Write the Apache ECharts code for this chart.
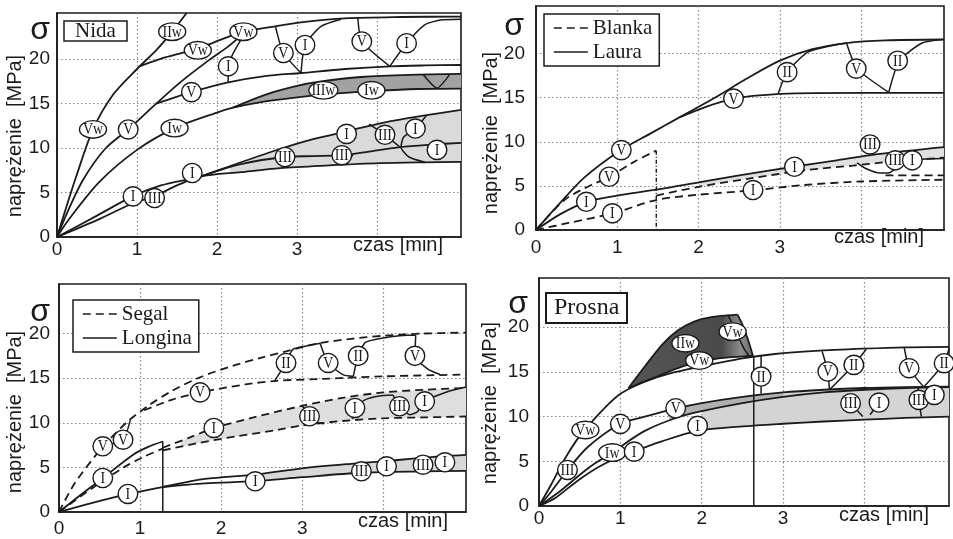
<!DOCTYPE html>
<html><head><meta charset="utf-8">
<script src="https://cdn.jsdelivr.net/npm/echarts@6/dist/echarts.min.js"></script>
<style>html,body{margin:0;padding:0;background:#fff}#c{width:953px;height:539px}</style>
</head><body><div id="c"></div>
<script>
// ---------- tick labels / titles ----------
const xTickLabels = ['0', '1', '2', '3'];
const yTickLabels = ['0', '5', '10', '15', '20'];
const yTitle = 'naprężenie  [MPa]';
const xTitle = 'czas [min]';
const sigma = 'σ';

// ---------- Panel 1: Nida ----------
const nidaA = [[0,0],[0.1,2.9],[0.24,6.8],[0.45,12.1],[0.7,16.0],[1.0,18.9],[1.25,21.1],[1.44,23.1],[1.62,25.2]];
const nidaB = [[0,0],[0.15,3.2],[0.33,6.5],[0.6,9.9],[0.89,12.1],[1.24,15.0],[1.54,17.4],[1.9,19.9],[2.15,21.5],[2.33,22.9]];
const nidaC = [[1.03,19.2],[1.35,20.2],[1.76,21.2],[2.05,22.2],[2.33,23.1],[2.73,23.7],[3.1,24.2],[3.6,24.6],[4.3,24.75],[5.05,24.8]];
const nidaD = [[1.24,15.0],[1.68,16.3],[2.14,17.4],[2.6,18.1],[3.05,18.45],[3.6,18.9],[4.16,19.2],[4.6,19.3],[5.05,19.35]];
const nidaIw = [[0,0],[0.15,2.0],[0.53,6.2],[1.0,9.8],[1.47,12.25],[2.0,14.0],[2.2,14.55],[2.5,15.1],[3.0,15.7],[3.5,16.15],[4.0,16.45],[4.5,16.65],[5.05,16.7]];
const nidaBandTop = [[2.2,14.55],[2.6,16.0],[3.0,17.0],[3.3,17.5],[3.8,18.0],[4.4,18.25],[5.05,18.35]];
const nidaL1 = [[0,0],[0.5,2.4],[0.95,4.6],[1.3,5.8],[1.79,6.8],[2.2,8.1],[2.79,9.9],[3.2,11.0],[3.62,11.9],[4.1,12.9],[4.62,13.7],[5.05,14.3]];
const nidaL2 = [[1.79,6.8],[2.3,8.2],[2.85,9.0],[3.2,9.1],[3.56,9.2],[3.9,9.6],[4.29,10.1],[4.7,10.4],[5.05,10.6]];
const nidaL3 = [[0,0],[0.5,1.9],[0.95,3.8],[1.22,4.6],[1.5,5.8],[1.79,6.8],[2.3,7.3],[2.79,7.75],[3.4,8.05],[4.04,8.3],[4.6,8.4],[5.05,8.45]];
const nidaDrops = [
  [[2.14,17.4],[2.14,19.2],[2.3,22.2]],
  [[2.73,23.7],[2.83,20.7],[3.05,18.45]],
  [[3.05,18.45],[3.1,21.6],[3.3,23.7],[3.55,24.5]],
  [[3.76,24.7],[3.81,22.0],[4.16,19.2]],
  [[4.16,19.2],[4.37,21.8],[4.6,23.9],[4.79,24.4],[5.05,24.5]],
  [[4.58,18.25],[4.75,16.75],[4.91,18.3]],
  [[3.9,12.7],[4.1,11.5],[4.29,10.1]],
  [[4.62,13.7],[4.48,12.2],[4.33,11.2],[4.3,10.1],[4.4,9.0],[4.6,8.4]],
  [[3.62,8.15],[3.7,9.3]]
];
const nidaLabels = [['IIw',1.44,23.1],['Vw',1.76,21.0],['Vw',2.33,23.1],['V',2.83,20.7],['I',3.1,21.6],['V',3.81,22.0],['I',4.37,21.8],['I',2.14,19.2],['V',1.68,16.3],['Vw',0.45,12.1],['V',0.89,12.1],['Iw',1.47,12.25],['IIIw',3.33,16.5],['Iw',3.93,16.5],['I',3.62,11.6],['III',4.1,11.5],['I',4.48,12.2],['I',4.75,9.8],['III',2.85,9.0],['III',3.56,9.2],['I',1.69,7.2],['I',0.95,4.57],['III',1.22,4.38]];

// ---------- Panel 2: Blanka / Laura ----------
const laurU1 = [[0,0],[0.3,3.1],[0.6,6.0],[1.05,9.1],[1.4,10.9],[1.77,12.8],[2.2,15.0],[2.6,17.2],[3.0,19.2],[3.4,20.5],[3.82,21.2],[4.3,21.5],[5.02,21.6]];
const laurU2 = [[1.77,12.8],[2.1,14.0],[2.43,14.9],[2.8,15.3],[3.2,15.5],[4.0,15.55],[5.02,15.55]];
const laurL = [[0,0],[0.3,1.8],[0.62,3.2],[1.0,3.9],[1.5,4.6],[2.0,5.4],[2.5,6.2],[3.19,7.2],[3.7,7.9],[4.2,8.6],[5.02,9.4]];
const laurDrops = [
  [[2.98,15.5],[3.09,17.9],[3.35,20.2],[3.82,21.2]],
  [[3.82,21.2],[3.95,18.3],[4.34,15.6]],
  [[4.34,15.6],[4.47,19.2],[4.75,21.2],[5.0,21.6]],
  [[3.95,7.6],[4.05,7.0],[4.23,6.45],[4.35,6.5],[4.44,7.1]],
  [[4.6,8.0],[5.02,8.1]]
];
const blankaU = [[0,0],[0.35,3.4],[0.68,5.1],[0.9,6.0],[1.2,7.7],[1.48,9.0]];
const blankaV = [[1.48,9.0],[1.48,0]];
const blankaL = [[0,0],[0.4,0.8],[0.95,1.9],[1.48,3.4],[2.0,4.0],[2.67,4.5],[3.3,5.1],[4.0,5.5],[5.02,5.7]];
const blankaM = [[1.48,3.9],[2.0,4.9],[2.6,5.8],[3.33,6.8],[3.9,7.3],[4.42,7.8],[5.02,8.2]];
const blankaR = [[4.3,6.2],[5.02,6.2]];
const laurLabels = [['V',1.05,9.06],['V',0.9,6.04],['I',0.62,3.2],['I',0.94,1.89],['V',2.43,14.9],['II',3.09,17.9],['V',3.94,18.3],['II',4.45,19.2],['I',3.18,7.17],['I',2.67,4.53],['III',4.11,9.7],['III',4.42,7.9],['I',4.63,7.9]];

// ---------- Panel 3: Segal / Longina ----------
const segalS1 = [[0,0],[0.2,3.3],[0.54,7.3],[0.83,10.0],[1.1,11.9],[1.4,13.6],[1.74,15.1],[2.15,16.4],[2.5,17.3],[2.8,18.0],[3.2,18.9],[3.6,19.4],[4.0,19.75],[4.5,20.0],[5.02,20.1]];
const segalS2 = [[1.05,11.4],[1.4,12.6],[1.74,13.4],[2.3,14.3],[2.68,14.7],[3.2,14.9],[4.0,15.2],[5.02,15.4]];
const segalS3 = [[1.28,7.2],[1.6,8.3],[1.91,9.4],[2.4,10.6],[3.0,11.9],[3.5,12.8],[4.0,13.4],[4.5,13.7],[5.02,13.9]];
const segalS4 = [[1.28,6.9],[1.7,7.7],[2.2,8.5],[2.7,9.2],[3.0,9.7],[3.5,10.2],[4.0,10.5],[4.5,10.6],[5.02,10.7]];
const segalS5 = [[0,0],[0.4,2.6],[0.8,5.0],[1.05,6.2],[1.28,7.1]];
const longinaLL = [[0,0],[0.25,1.8],[0.54,3.8],[0.91,6.4],[1.1,7.3],[1.28,7.9]];
const longinaV = [[1.28,7.9],[1.28,0]];
const longinaLowTop = [[0,0],[0.4,1.0],[0.85,2.0],[1.28,2.8],[1.8,3.7],[2.42,4.2],[3.0,4.9],[3.6,5.4],[4.04,5.7],[4.5,6.1],[5.02,6.4]];
const longinaLowBot = [[1.28,2.8],[1.8,3.2],[2.42,3.45],[3.0,3.9],[3.73,4.4],[4.5,4.55],[5.02,4.6]];
const longinaPieces = [
  [[2.66,14.7],[2.8,16.7],[2.88,18.2],[3.05,18.6],[3.22,18.9]],
  [[3.22,18.9],[3.32,16.7],[3.5,15.4],[3.63,15.2]],
  [[3.63,15.2],[3.69,17.5],[3.78,19.0],[4.0,19.5],[4.3,19.8],[4.4,19.8]],
  [[4.4,19.8],[4.39,17.5],[4.55,16.0],[4.7,15.4]],
  [[2.99,12.0],[3.05,11.3],[3.09,10.7],[3.2,10.0],[3.27,9.9]],
  [[3.62,10.4],[3.65,11.7],[3.78,12.6],[3.95,13.0],[4.12,13.1]],
  [[4.12,13.1],[4.2,11.85],[4.33,10.9],[4.42,11.2]],
  [[4.42,11.2],[4.51,12.4],[4.8,13.5],[5.02,14.0]],
  [[0.54,7.36],[0.79,8.1],[0.88,10.3]]
];
const segLabels = [['V',0.54,7.36],['V',0.79,8.1],['I',0.54,3.81],['I',0.85,2.02],['V',1.74,13.4],['I',1.91,9.42],['II',2.8,16.7],['V',3.32,16.7],['II',3.69,17.5],['V',4.39,17.5],['III',3.09,10.73],['I',3.65,11.66],['III',4.2,11.85],['I',4.51,12.4],['I',2.42,3.44],['III',3.73,4.56],['I',4.04,5.12],['III',4.49,5.3],['I',4.76,5.57]];

// ---------- Panel 4: Prosna ----------
const prosnaP2 = [[0,0],[0.15,2.4],[0.3,5.0],[0.45,7.2],[0.57,8.6],[0.8,10.9],[1.01,12.6],[1.3,13.9],[1.6,14.8],[2.0,15.6],[2.5,16.5],[2.9,17.0],[3.4,17.35],[4.0,17.6],[4.5,17.75],[5.04,17.8]];
const prosnaP3 = [[0,0],[0.15,1.6],[0.35,4.0],[0.6,6.6],[1.0,9.2],[1.3,10.0],[1.68,10.9],[2.0,11.5],[2.5,12.2],[3.0,12.7],[3.5,13.0],[4.0,13.2],[4.5,13.3],[5.04,13.35]];
const prosnaP4 = [[0,0],[0.25,1.6],[0.6,4.2],[0.9,6.0],[1.3,8.4],[1.7,9.9],[2.0,10.6],[2.5,11.5],[3.0,12.2],[3.5,12.7],[4.0,13.0],[4.5,13.2],[5.04,13.3]];
const prosnaP5 = [[0,0],[0.2,0.9],[0.5,3.0],[0.8,4.7],[1.17,6.1],[1.5,7.2],[1.95,8.4],[2.5,8.9],[3.0,9.2],[3.5,9.45],[4.0,9.65],[4.5,9.85],[5.04,10.0]];
const prosnaDarkTop = [[1.1,13.2],[1.3,15.6],[1.52,18.1],[1.7,19.6],[1.9,20.6],[2.1,21.1],[2.44,21.4]];
const prosnaDarkRight = [[2.44,21.4],[2.5,20.3],[2.57,18.6],[2.63,16.8]];
const prosnaDarkBottom = [[1.1,13.2],[1.4,14.3],[1.7,15.4],[2.0,16.2],[2.3,16.6],[2.63,16.8]];
const prosnaVert = [[2.64,16.8],[2.64,0]];
const prosnaPieces = [
  [[2.73,16.85],[2.73,14.48],[2.73,12.55]],
  [[3.48,17.3],[3.55,15.04],[3.57,13.0]],
  [[3.57,13.0],[3.87,15.78],[4.02,17.5]],
  [[4.49,17.7],[4.55,15.41],[4.73,13.3]],
  [[4.73,13.3],[4.98,15.97],[5.04,17.6]],
  [[3.83,11.49],[3.98,10.0]],
  [[4.07,10.2],[4.18,11.57]],
  [[4.66,13.3],[4.67,11.87],[4.7,10.0]],
  [[2.32,21.4],[2.42,19.5],[2.52,17.6],[2.58,16.8]]
];
const prosnaLabels = [['III',0.35,4.03],['Vw',0.57,8.5],['V',1.0,9.18],['Iw',0.9,5.97],['I',1.17,6.08],['V',1.68,10.93],['I',1.95,8.96],['II',2.73,14.48],['IIw',1.8,18.2],['Vw',1.97,16.27],['Vw',2.38,19.5],['V',3.55,15.04],['II',3.87,15.78],['V',4.55,15.41],['II',4.98,15.97],['III',3.83,11.49],['I',4.18,11.57],['III',4.67,11.87],['I',4.86,12.43]];

// ---------- layout (pixels) ----------
const panels = [
  {left:57, top:13, width:404, height:224, xmax:5.05, ymax:25.2, xm:3, ym:7, sx:40, sy:30, tx:15, ty:136, cx:353, cy:245},
  {left:536, top:6, width:408, height:224, xmax:5.02, ymax:25.4, xm:8, ym:11, sx:514, sy:26, tx:491, ty:133, cx:834, cy:237},
  {left:59, top:284, width:407, height:228, xmax:5.02, ymax:25.55, xm:7, ym:9, sx:40, sy:312, tx:15, ty:412, cx:358, cy:521},
  {left:539, top:278, width:410, height:228, xmax:5.04, ymax:25.5, xm:3, ym:10, sx:518, sy:304, tx:490, ty:403, cx:839, cy:515}
];

const INK = '#1b1b1b';
const GRIDC = '#8a8a8a';
const T = 'rgba(0,0,0,0)';
const series = [];

function clip(arr, a, b) {
  const at = function (x) {
    for (let i = 0; i < arr.length - 1; i++) {
      const p = arr[i], q = arr[i + 1];
      if (x >= p[0] && x <= q[0]) {
        const t = (q[0] - p[0]) ? (x - p[0]) / (q[0] - p[0]) : 0;
        return [x, p[1] + t * (q[1] - p[1])];
      }
    }
    return null;
  };
  const out = [];
  const s = at(a); if (s) out.push(s);
  arr.forEach(function (p) { if (p[0] > a && p[0] < b) out.push(p); });
  const e = at(b); if (e) out.push(e);
  return out;
}
function addLine(g, data, o) {
  o = o || {};
  series.push({
    type: 'line', name: o.name, xAxisIndex: g, yAxisIndex: g, data: data,
    symbol: 'none', showSymbol: false, smooth: o.smooth == null ? 0.3 : o.smooth,
    silent: true, z: 3, animation: false,
    itemStyle: { color: INK },
    lineStyle: { color: INK, width: o.w || 1.8, type: o.dash || 'solid' },
    emphasis: { disabled: true }
  });
}
function addPoly(g, pts, color) {
  series.push({
    type: 'custom', xAxisIndex: g, yAxisIndex: g, z: 1, silent: true, animation: false,
    data: [[0, 0]], encode: { x: 0, y: 1 },
    renderItem: function (params, api) {
      return { type: 'polygon', shape: { points: pts.map(function (p) { return api.coord(p); }) }, style: { fill: color } };
    }
  });
}
function addBand(g, upper, lower, a, b, color) {
  addPoly(g, clip(upper, a, b).concat(clip(lower, a, b).reverse()), color);
}
function addLabels(g, arr) {
  series.push({
    type: 'custom', xAxisIndex: g, yAxisIndex: g, z: 6, silent: true, animation: false,
    data: arr.map(function (a) { return [a[1], a[2]]; }), encode: { x: 0, y: 1 },
    renderItem: function (params, api) {
      const t = arr[params.dataIndex][0];
      const c = api.coord([api.value(0), api.value(1)]);
      const wide = t.indexOf('w') >= 0;
      const rx = wide ? (t.length > 3 ? 14.5 : 13.5) : 9.8;
      const ry = wide ? 8.8 : 9.6;
      return { type: 'group', children: [
        { type: 'ellipse', shape: { cx: c[0], cy: c[1], rx: rx, ry: ry }, style: { fill: '#fff', stroke: INK, lineWidth: 1.4 } },
        { type: 'text', x: c[0], y: c[1] + 0.5, scaleX: 0.82,
          style: { text: t, fill: INK, font: '17px "Liberation Serif"', align: 'center', verticalAlign: 'middle' } }
      ]};
    }
  });
}

const DASH = [8, 5];
const darkGrad = new echarts.graphic.LinearGradient(0, 0, 1, 0, [
  { offset: 0, color: '#555555' }, { offset: 0.75, color: '#4a4a4a' }, { offset: 0.9, color: '#8c8c8c' }, { offset: 1, color: '#6a6a6a' }
]);
// Panel 1
addBand(0, nidaL1, nidaL3, 2.16, 5.05, '#dadada');
addBand(0, nidaBandTop, nidaIw, 2.2, 5.05, '#a2a2a2');
[nidaA, nidaB, nidaC, nidaD, nidaIw, nidaBandTop, nidaL1, nidaL2, nidaL3].forEach(function (d) { addLine(0, d); });
nidaDrops.forEach(function (d) { addLine(0, d, { smooth: 0.2, w: 1.5 }); });
addLabels(0, nidaLabels);
// Panel 2
addBand(1, laurL, blankaM, 2.0, 5.02, '#e0e0e0');
addLine(1, blankaU, { dash: DASH, name: 'Blanka' });
addLine(1, laurU1, { name: 'Laura' });
[laurU2, laurL].forEach(function (d) { addLine(1, d); });
laurDrops.forEach(function (d) { addLine(1, d, { smooth: 0.2, w: 1.5 }); });
[blankaL, blankaM, blankaR].forEach(function (d) { addLine(1, d, { dash: DASH }); });
addLine(1, blankaV, { smooth: 0, dash: [4, 2, 1, 2], w: 1.4 });
addLabels(1, laurLabels);
// Panel 3
addBand(2, segalS3, segalS4, 1.5, 5.02, '#dedede');
addBand(2, longinaLowTop, longinaLowBot, 2.5, 5.02, '#d8d8d8');
addLine(2, segalS1, { dash: DASH, name: 'Segal' });
[segalS2, segalS3, segalS4, segalS5].forEach(function (d) { addLine(2, d, { dash: DASH }); });
addLine(2, longinaLL, { name: 'Longina' });
[longinaLowTop, longinaLowBot].forEach(function (d) { addLine(2, d); });
addLine(2, longinaV, { smooth: 0, w: 1.5 });
longinaPieces.forEach(function (d) { addLine(2, d, { smooth: 0.2, w: 1.5 }); });
addLabels(2, segLabels);
// Panel 4
addPoly(3, prosnaDarkTop.concat(prosnaDarkRight.slice(1), prosnaDarkBottom.slice().reverse()), darkGrad);
addBand(3, prosnaP4, prosnaP5, 2.0, 5.04, '#d4d4d4');
addBand(3, prosnaP3, prosnaP4, 3.0, 5.04, '#d4d4d4');
addBand(3, prosnaP3, prosnaP4, 1.6, 3.0, '#b0b0b0');
[prosnaP2, prosnaP3, prosnaP4, prosnaP5, prosnaDarkTop, prosnaDarkBottom].forEach(function (d) { addLine(3, d); });
addLine(3, prosnaDarkRight, { smooth: 0.2 });
addLine(3, prosnaVert, { smooth: 0, w: 1.5 });
prosnaPieces.forEach(function (d) { addLine(3, d, { smooth: 0.2, w: 1.5 }); });
addLabels(3, prosnaLabels);

const grids = [], xAxes = [], yAxes = [], graphics = [];
panels.forEach(function (p, g) {
  grids.push({ left: p.left, top: p.top, width: p.width, height: p.height, show: true,
    borderColor: INK, borderWidth: 1.6, backgroundColor: 'rgba(0,0,0,0)', containLabel: false, outerBoundsMode: 'none' });
  xAxes.push({ gridIndex: g, type: 'value', min: 0, max: p.xmax, interval: 1,
    axisLine: { show: true, onZero: false, lineStyle: { color: INK, width: 1.6 } }, axisTick: { show: false },
    axisLabel: { margin: p.xm, fontSize: 19, fontFamily: 'Liberation Sans', color: INK,
      formatter: function (v) { return xTickLabels.indexOf(String(v)) >= 0 ? String(v) : ''; } },
    splitLine: { show: true, lineStyle: { type: [1.5, 2.5], width: 1.2, color: [T, GRIDC, GRIDC, GRIDC, GRIDC, T, T] } } });
  yAxes.push({ gridIndex: g, type: 'value', min: 0, max: p.ymax, interval: 5,
    axisLine: { show: true, onZero: false, lineStyle: { color: INK, width: 1.6 } }, axisTick: { show: false },
    axisLabel: { margin: p.ym, fontSize: 19, fontFamily: 'Liberation Sans', color: INK,
      formatter: function (v) { return yTickLabels.indexOf(String(v)) >= 0 ? String(v) : ''; } },
    splitLine: { show: true, lineStyle: { type: [1.5, 2.5], width: 1.2, color: [T, GRIDC, GRIDC, GRIDC, GRIDC, T, T] } } });
  graphics.push({ type: 'text', x: p.sx, y: p.sy, z: 10,
    style: { text: sigma, fill: INK, font: '32px "Liberation Sans"', align: 'center', verticalAlign: 'middle', textAlign: 'center', textVerticalAlign: 'middle' } });
  graphics.push({ type: 'text', x: p.tx, y: p.ty, rotation: Math.PI / 2, z: 10,
    style: { text: yTitle, fill: INK, font: '20px "Liberation Sans"', align: 'center', verticalAlign: 'middle', textAlign: 'center', textVerticalAlign: 'middle' } });
  graphics.push({ type: 'text', x: p.cx, y: p.cy, z: 10,
    style: { text: xTitle, fill: INK, font: '20px "Liberation Sans"', align: 'left', verticalAlign: 'middle', textAlign: 'left', textVerticalAlign: 'middle' } });
});

const legendCommon = { orient: 'vertical', selectedMode: false, itemGap: 2, itemWidth: 34, itemHeight: 14,
  padding: [3, 7, 3, 9], borderColor: INK, borderWidth: 1.5, backgroundColor: '#fff',
  itemStyle: { opacity: 0, borderWidth: 0 },
  lineStyle: { color: INK, width: 1.6 },
  textStyle: { fontFamily: 'Liberation Serif', fontSize: 21, color: INK, lineHeight: 22 } };

const chart = echarts.init(document.getElementById('c'), null, { renderer: 'canvas' });
chart.setOption({
  animation: false,
  backgroundColor: '#ffffff',
  color: [INK],
  textStyle: { fontFamily: 'Liberation Sans' },
  title: [
    { text: 'Nida', left: 64, top: 21, padding: [0, 11], borderWidth: 1.5, borderColor: INK, backgroundColor: '#fff',
      textStyle: { fontFamily: 'Liberation Serif', fontSize: 21, fontWeight: 'normal', color: INK, lineHeight: 20 } },
    { text: 'Prosna', left: 546, top: 293, padding: [3, 8], borderWidth: 2, borderColor: INK, backgroundColor: '#fff',
      textStyle: { fontFamily: 'Liberation Serif', fontSize: 24, fontWeight: 'normal', color: INK, lineHeight: 24 } }
  ],
  legend: [
    Object.assign({ data: ['Blanka', 'Laura'], left: 544, top: 14 }, legendCommon),
    Object.assign({ data: ['Segal', 'Longina'], left: 73, top: 300 }, legendCommon)
  ],
  grid: grids, xAxis: xAxes, yAxis: yAxes,
  graphic: graphics,
  series: series
});
</script></body></html>
